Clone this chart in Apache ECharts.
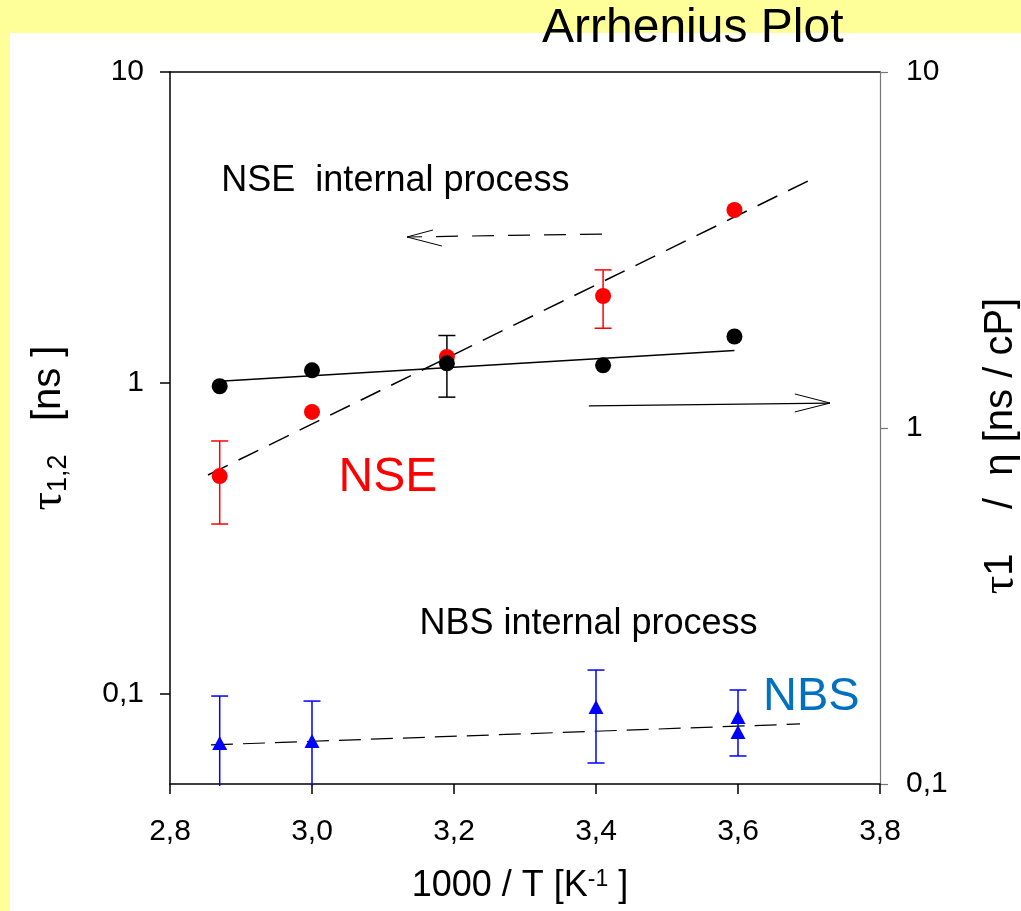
<!DOCTYPE html>
<html><head><meta charset="utf-8">
<script src="https://cdn.jsdelivr.net/npm/echarts@6/dist/echarts.min.js"></script>
<style>
html,body{margin:0;padding:0;background:#ffff99;overflow:hidden}
#paper{position:absolute;left:10px;top:33px;width:1011px;height:878px;background:#fff}
#c{position:absolute;left:0;top:0;width:1021px;height:911px}
</style>
</head><body><div id="paper"></div><div id="c"></div>
<script>
// ---- data ----
const xTicks = [2.8, 3.0, 3.2, 3.4, 3.6, 3.8];
const yTicks = [0.1, 1, 10];
const yTickLabels = ['0,1', '1', '10'];

// NSE (left axis, tau_{1,2} [ns])
const nseX = [2.87, 3.00, 3.19, 3.41, 3.595];
const nseTau = [0.502, 0.807, 1.212, 1.904, 3.60];
const nseErrX = [2.87, 3.41];
const nseErrLow = [0.352, 1.50];
const nseErrHigh = [0.651, 2.31];
const nseFitX = [2.8535, 3.7014];
const nseFitY = [0.506, 4.494];

// tau1/eta (right axis, ns/cP)
const visX = [2.87, 3.00, 3.19, 3.41, 3.595];
const visTauEta = [1.31, 1.452, 1.519, 1.50, 1.807];
const visErrX = [3.19];
const visErrLow = [1.221];
const visErrHigh = [1.819];
const visFitX = [2.87, 3.595];
const visFitY = [1.353, 1.651];

// NBS (left axis)
const nbsX = [2.87, 3.00, 3.40, 3.60, 3.60];
const nbsTau = [0.0696, 0.0706, 0.0908, 0.0843, 0.0755];
const nbsErrX = [2.87, 3.00, 3.40, 3.60];
const nbsErrLow = [0.05, 0.05, 0.060, 0.0632];
const nbsErrHigh = [0.0985, 0.0949, 0.1194, 0.103];
const nbsFitX = [2.8577, 3.6873];
const nbsFitY = [0.0686, 0.0801];

// arrows (data coordinates, left axis values)
const arrowLeftShaftX = [3.4085, 3.1338];
const arrowLeftShaftY = [3.013, 2.948];
const arrowLeftHeadX = [3.1704, 3.1338, 3.183];
const arrowLeftHeadY = [3.104, 2.948, 2.757];
const arrowRightShaftX = [3.390, 3.7296];
const arrowRightShaftY = [0.844, 0.862];
const arrowRightHeadX = [3.680, 3.7296, 3.680];
const arrowRightHeadY = [0.922, 0.862, 0.807];

// text annotations
const noteText = ['NSE  internal process', 'NBS internal process', 'NSE', 'NBS'];
const noteX = [2.873, 3.152, 3.038, 3.636];
const noteY = [4.43, 0.1667, 0.4947, 0.0971];
const noteColor = ['#000000', '#000000', '#ff0000', '#0070c0'];
const noteSize = [36, 36, 48, 47];

// ---- helpers ----
const L = Math.log10;
const pairs = (xs, ys) => xs.map((x, i) => [x, L(ys[i])]);
const fmtTick = v => {
  const i = yTicks.findIndex(t => Math.abs(L(t) - v) < 1e-6);
  return i >= 0 ? yTickLabels[i] : '';
};
const FONT = 'Liberation Sans, Arial, sans-serif';
const SERIF = 'Liberation Serif, Times New Roman, serif';

function errRender(color) {
  return function (params, api) {
    const x = api.value(0), lo = api.value(1), hi = api.value(2);
    const p1 = api.coord([x, lo]), p2 = api.coord([x, hi]);
    const bottom = params.coordSys.y + params.coordSys.height;
    const w = 8.5;
    const style = { stroke: color, lineWidth: 1.5 };
    const children = [];
    let y1 = p1[1];
    let capLow = true;
    if (y1 > bottom) { y1 = bottom + 2; capLow = false; }
    children.push({ type: 'line', shape: { x1: p1[0], y1: y1, x2: p2[0], y2: p2[1] }, style });
    if (capLow) children.push({ type: 'line', shape: { x1: p1[0] - w, y1: y1, x2: p1[0] + w, y2: y1 }, style });
    children.push({ type: 'line', shape: { x1: p2[0] - w, y1: p2[1], x2: p2[0] + w, y2: p2[1] }, style });
    return { type: 'group', children };
  };
}
const errData = (xs, lo, hi) => xs.map((x, i) => [x, L(lo[i]), L(hi[i])]);

const leftMin = -1.2894;

const chart = echarts.init(document.getElementById('c'), null, { renderer: 'canvas' });
chart.setOption({
  animation: false,
  backgroundColor: 'transparent',
  title: {
    text: 'Arrhenius Plot', left: 542, top: 5, padding: 0,
    textStyle: { fontFamily: FONT, fontSize: 48, fontWeight: 'normal', color: '#000' }
  },
  grid: { left: 170, right: 141, top: 72, bottom: 127, containLabel: false, outerBoundsMode: 'none' },
  xAxis: [{
    type: 'value', min: 2.8, max: 3.8, interval: 0.2, position: 'bottom',
    splitLine: { show: false },
    axisLine: { show: true, onZero: false, lineStyle: { color: '#000', width: 1.5 } },
    axisTick: { show: true, length: 10, lineStyle: { color: '#000', width: 1.5 } },
    axisLabel: {
      margin: 33, fontFamily: FONT, fontSize: 30, color: '#000',
      formatter: v => { const i = xTicks.findIndex(t => Math.abs(t - v) < 1e-6); return i >= 0 ? xTicks[i].toFixed(1).replace('.', ',') : ''; }
    },
    name: '1000 / T [K{sup|-1} ]', nameLocation: 'middle', nameGap: 84,
    nameTextStyle: {
      fontFamily: FONT, fontSize: 36, color: '#000', padding: [0, 10, 0, 0],
      rich: { sup: { fontFamily: FONT, fontSize: 23, color: '#000', verticalAlign: 'top', padding: [0, 0, 14, 0] } }
    }
  }, {
    type: 'value', min: 2.8, max: 3.8, position: 'top',
    splitLine: { show: false },
    axisLine: { show: true, onZero: false, lineStyle: { color: '#000', width: 1.5 } },
    axisTick: { show: false }, axisLabel: { show: false }
  }],
  yAxis: [{
    type: 'value', min: leftMin, max: 1, position: 'left',
    splitLine: { show: false },
    axisLine: { show: true, onZero: false, lineStyle: { color: '#000', width: 1.5 } },
    axisTick: { show: true, length: 10, customValues: yTicks.map(L), lineStyle: { color: '#000', width: 1.5 } },
    axisLabel: { margin: 26, fontFamily: FONT, fontSize: 30, color: '#000', customValues: yTicks.map(L), formatter: fmtTick },
    name: '{t|τ}{s|1,2}{n|   [ns ]}', nameLocation: 'middle', nameGap: 98,
    nameTextStyle: {
      rich: {
        t: { fontFamily: SERIF, fontSize: 46, color: '#000' },
        s: { fontFamily: FONT, fontSize: 27, color: '#000', padding: [20, 0, 0, 0] },
        n: { fontFamily: FONT, fontSize: 40, color: '#000' }
      }
    }
  }, {
    type: 'value', min: -1, max: 1, interval: 1, position: 'right',
    splitLine: { show: false },
    axisLine: { show: true, onZero: false, lineStyle: { color: '#777', width: 1.2 } },
    axisTick: { show: true, length: 8, lineStyle: { color: '#777', width: 1.2 } },
    axisLabel: { margin: 26, fontFamily: FONT, fontSize: 30, color: '#000', formatter: fmtTick },
    name: '{t|τ}{n|1    /  }{e|η}{n| [ns / cP]}', nameLocation: 'middle', nameGap: 98,
    nameTextStyle: {
      padding: [0, 36, 0, 0],
      rich: {
        t: { fontFamily: SERIF, fontSize: 46, color: '#000' },
        e: { fontFamily: FONT, fontSize: 40, color: '#000' },
        n: { fontFamily: FONT, fontSize: 40, color: '#000' }
      }
    }
  }],
  series: [
    // fit lines
    { type: 'line', name: 'NSE fit', xAxisIndex: 0, yAxisIndex: 0, data: pairs(nseFitX, nseFitY), showSymbol: false, symbol: 'none',
      lineStyle: { color: '#000', width: 1.5, type: [22, 12] }, z: 2 },
    { type: 'line', name: 'visc fit', xAxisIndex: 0, yAxisIndex: 1, data: pairs(visFitX, visFitY), showSymbol: false, symbol: 'none',
      lineStyle: { color: '#000', width: 1.5 }, z: 2 },
    { type: 'line', name: 'NBS fit', xAxisIndex: 0, yAxisIndex: 0, data: pairs(nbsFitX, nbsFitY), showSymbol: false, symbol: 'none',
      lineStyle: { color: '#000', width: 1.2, type: [22, 10] }, z: 2 },
    // arrows
    { type: 'line', xAxisIndex: 0, yAxisIndex: 0, data: pairs(arrowLeftShaftX, arrowLeftShaftY), symbol: 'none',
      lineStyle: { color: '#000', width: 1.2, type: [22, 14] }, z: 2 },
    { type: 'line', xAxisIndex: 0, yAxisIndex: 0, data: pairs(arrowLeftHeadX, arrowLeftHeadY), symbol: 'none',
      lineStyle: { color: '#000', width: 1 }, z: 2 },
    { type: 'line', xAxisIndex: 0, yAxisIndex: 0, data: pairs(arrowRightShaftX, arrowRightShaftY), symbol: 'none',
      lineStyle: { color: '#000', width: 1.2 }, z: 2 },
    { type: 'line', xAxisIndex: 0, yAxisIndex: 0, data: pairs(arrowRightHeadX, arrowRightHeadY), symbol: 'none',
      lineStyle: { color: '#000', width: 1 }, z: 2 },
    // error bars
    { type: 'custom', xAxisIndex: 0, yAxisIndex: 0, renderItem: errRender('#ff0000'), data: errData(nseErrX, nseErrLow, nseErrHigh), z: 3 },
    { type: 'custom', xAxisIndex: 0, yAxisIndex: 1, renderItem: errRender('#000000'), data: errData(visErrX, visErrLow, visErrHigh), z: 3 },
    { type: 'custom', xAxisIndex: 0, yAxisIndex: 0, renderItem: errRender('#0000ff'), data: errData(nbsErrX, nbsErrLow, nbsErrHigh), z: 3 },
    // points
    { type: 'scatter', name: 'NSE', xAxisIndex: 0, yAxisIndex: 0, data: pairs(nseX, nseTau), symbol: 'circle', symbolSize: 16,
      itemStyle: { color: '#ff0000', opacity: 1 }, z: 4 },
    { type: 'scatter', name: 'tau1/eta', xAxisIndex: 0, yAxisIndex: 1, data: pairs(visX, visTauEta), symbol: 'circle', symbolSize: 16,
      itemStyle: { color: '#000000', opacity: 1 }, z: 5 },
    { type: 'scatter', name: 'NBS', xAxisIndex: 0, yAxisIndex: 0, data: pairs(nbsX, nbsTau), symbol: 'triangle', symbolSize: [15, 14],
      itemStyle: { color: '#0000ff', opacity: 1 }, z: 5 },
    // annotations
    { type: 'scatter', xAxisIndex: 0, yAxisIndex: 0, symbolSize: 1, itemStyle: { color: 'rgba(0,0,0,0)', opacity: 1 }, z: 6, silent: true,
      data: noteText.map((t, i) => ({
        value: [noteX[i], L(noteY[i])],
        label: { show: true, formatter: t, position: [0, 0], align: 'left', verticalAlign: 'middle',
          fontFamily: FONT, fontSize: noteSize[i], color: noteColor[i], opacity: 1 }
      }))
    }
  ]
});
</script>
</body></html>
